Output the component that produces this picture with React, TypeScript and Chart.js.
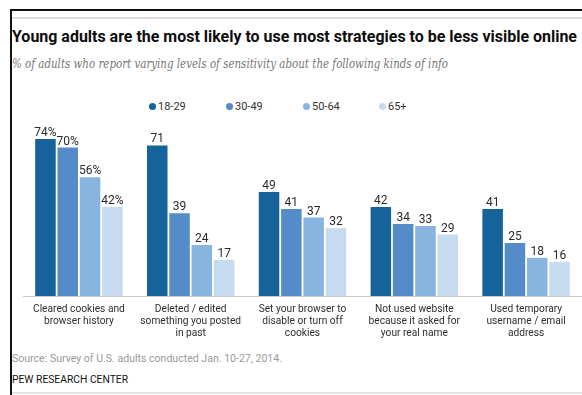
import React, { useEffect, useRef } from "react";
import { Chart, registerables } from "chart.js";

Chart.register(...registerables);

const titleText = "Young adults are the most likely to use most strategies to be less visible online";
const subtitleText = "% of adults who report varying levels of sensitivity about the following kinds of info";
const sourceText = "Source: Survey of U.S. adults conducted Jan. 10-27, 2014.";
const creditText = "PEW RESEARCH CENTER";

const categories: string[][] = [
  ["Cleared cookies and", "browser history"],
  ["Deleted / edited", "something you posted", "in past"],
  ["Set your browser to", "disable or turn off", "cookies"],
  ["Not used website", "because it asked for", "your real name"],
  ["Used temporary", "username / email", "address"],
];

const seriesNames = ["18-29", "30-49", "50-64", "65+"];
const age18to29 = [74, 71, 49, 42, 41];
const age30to49 = [70, 39, 41, 34, 25];
const age50to64 = [56, 24, 37, 33, 18];
const age65plus = [42, 17, 32, 29, 16];
const seriesColors = ["#15639a", "#548bc8", "#88b4e0", "#c6dbf0"];

const SANS = "Roboto, 'Liberation Sans', sans-serif";

const valueLabels = {
  id: "valueLabels",
  afterDatasetsDraw(chart: any) {
    const ctx = chart.ctx;
    ctx.save();
    ctx.font = "12px " + SANS;
    ctx.fillStyle = "#2a2a2a";
    ctx.textAlign = "center";
    ctx.textBaseline = "alphabetic";
    chart.data.datasets.forEach((ds: any, di: number) => {
      const meta = chart.getDatasetMeta(di);
      meta.data.forEach((bar: any, i: number) => {
        const v = ds.data[i];
        const txt = i === 0 ? v + "%" : String(v);
        ctx.fillText(txt, bar.x, bar.y - 3);
      });
    });
    ctx.restore();
  },
};

function Fit({ w, style, children }: { w: number; style: React.CSSProperties; children: React.ReactNode }) {
  const ref = useRef<HTMLSpanElement>(null);
  useEffect(() => {
    const el = ref.current;
    if (!el) return;
    el.style.transform = "none";
    const actual = el.getBoundingClientRect().width;
    if (actual > 0) el.style.transform = `scaleX(${w / actual})`;
  }, [w]);
  return (
    <span
      ref={ref}
      style={{
        position: "absolute",
        whiteSpace: "nowrap",
        display: "inline-block",
        transformOrigin: "left center",
        lineHeight: 1,
        ...style,
      }}
    >
      {children}
    </span>
  );
}

export default function App() {
  const canvasRef = useRef<HTMLCanvasElement>(null);

  useEffect(() => {
    document.documentElement.style.overflow = "hidden";
    const canvas = canvasRef.current;
    if (!canvas) return;
    const data = [age18to29, age30to49, age50to64, age65plus];
    const chart = new Chart(canvas, {
      type: "bar",
      data: {
        labels: categories,
        datasets: seriesNames.map((name, i) => ({
          label: name,
          data: data[i],
          backgroundColor: seriesColors[i],
          borderWidth: 0,
          categoryPercentage: 0.798,
          barPercentage: 0.92,
        })),
      },
      options: {
        responsive: false,
        animation: false,
        devicePixelRatio: 1,
        layout: { padding: { left: 23, right: 0, top: 120, bottom: 0 } },
        plugins: {
          legend: { display: false },
          tooltip: { enabled: false },
          title: { display: false },
        },
        scales: {
          x: {
            grid: { display: false, drawTicks: false },
            border: { display: true, color: "#cccccc", width: 1 },
            ticks: {
              color: "#2e2e2e",
              padding: 7,
              maxRotation: 0,
              autoSkip: false,
              font: { family: SANS, size: 10.2, lineHeight: 1.18 },
            },
            afterFit: (scale: any) => {
              scale.height = 99;
            },
          },
          y: {
            display: false,
            min: 0,
            max: 83,
          },
        },
      },
      plugins: [valueLabels],
    });
    return () => chart.destroy();
  }, []);

  const legendLeft = [153, 230, 307, 383];

  return (
    <div style={{ position: "absolute", left: 0, top: 0, width: 582, height: 395, background: "#fff", overflow: "hidden", fontFamily: SANS }}>
      <div style={{ position: "absolute", left: 10, top: 9, width: 572, height: 2, background: "#111" }} />
      <div style={{ position: "absolute", left: 12, top: 17, width: 570, height: 2, background: "#dddddd" }} />
      <div style={{ position: "absolute", left: 10, top: 9, width: 2, height: 386, background: "#111" }} />
      <div style={{ position: "absolute", left: 12, top: 392, width: 570, height: 2, background: "#e4e4e4" }} />

      <Fit w={565} style={{ left: 12, top: 29, fontSize: 16, fontWeight: 700, color: "#0d0d0d" }}>{titleText}</Fit>
      <Fit w={436} style={{ left: 12, top: 58, fontSize: 12.5, fontStyle: "italic", color: "#777777", fontFamily: "'DejaVu Serif', Georgia, serif" }}>{subtitleText}</Fit>

      {seriesNames.map((name, i) => (
        <div key={name} style={{ position: "absolute", left: legendLeft[i] - 4, top: 99, height: 14, display: "flex", alignItems: "center", fontSize: 11, color: "#333" }}>
          <span style={{ width: 7, height: 7, borderRadius: "50%", background: seriesColors[i], display: "inline-block", marginRight: 2 }} />
          <span>{name}</span>
        </div>
      ))}

      <Fit w={270} style={{ left: 12, top: 353, fontSize: 11, color: "#9a9a9a" }}>{sourceText}</Fit>
      <Fit w={116} style={{ left: 12, top: 374, fontSize: 11, color: "#111" }}>{creditText}</Fit>

      <canvas ref={canvasRef} width={582} height={395} style={{ position: "absolute", left: 0, top: 0, width: 582, height: 395 }} />
    </div>
  );
}
